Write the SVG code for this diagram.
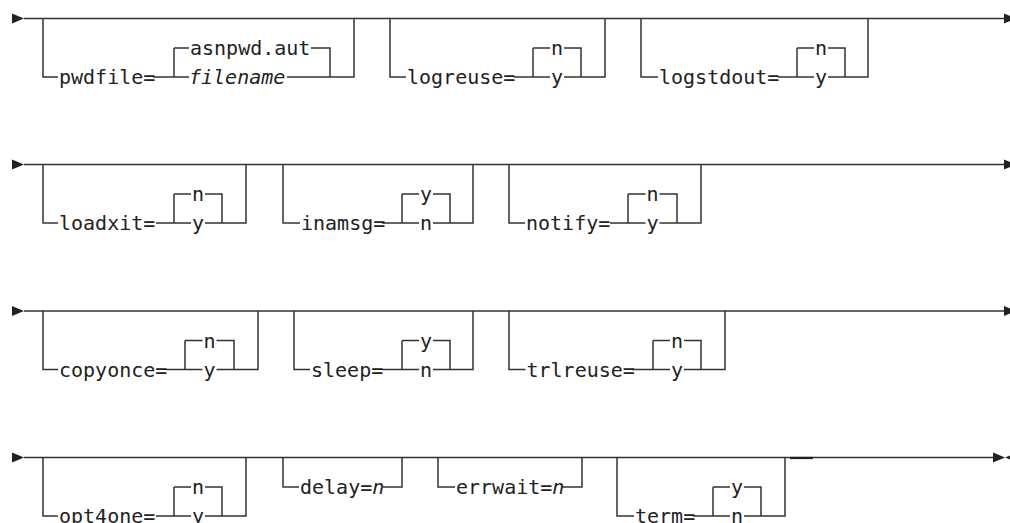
<svg xmlns="http://www.w3.org/2000/svg" width="1010" height="523" viewBox="0 0 1010 523">
<style>
.ln{fill:none;stroke:#333;stroke-width:1.5}
.t{font-family:"DejaVu Sans Mono","Liberation Mono",monospace;font-size:20px;fill:#222}
.c{text-anchor:middle}
.i{font-style:italic}
.ah{fill:#222}
</style>
<rect width="1010" height="523" fill="#fff"/>
<g id="connectors">
<path class="ln" d="M24 18.5 H1004 M24 164.5 H1004 M24 311 H1004 M24 457.5 H994"/>
<path d="M790 458 H813" stroke="#222" stroke-width="2.2"/>
<polygon class="ah" points="12,13.5 24,18.5 12,23.5"/>
<polygon class="ah" points="12,159.5 24,164.5 12,169.5"/>
<polygon class="ah" points="12,306 24,311 12,316"/>
<polygon class="ah" points="12,452.5 24,457.5 12,462.5"/>
<polygon class="ah" points="1004,13.5 1016,18.5 1004,23.5"/>
<polygon class="ah" points="1004,159.5 1016,164.5 1004,169.5"/>
<polygon class="ah" points="1004,306 1016,311 1004,316"/>
<polygon class="ah" points="993,452.5 1005,457.5 993,462.5"/>
<polygon class="ah" points="1017,452.5 1005,457.5 1017,462.5"/>
</g>
<g id="pwdfile">
<path class="ln" d="M43 18.5 V77 H58 M153 77 H189 M174 48 V77 M174 48 H189 M311 48 H330 V77 M287 77 H354 V18.5"/>
<text class="t" x="59" y="84">pwdfile=</text>
<text class="t" x="190" y="55">asnpwd.aut</text>
<text class="t i" x="189" y="84">filename</text>
</g>
<g id="logreuse">
<path class="ln" d="M390 18.5 V77 H406 M514 77 H550 M533 48 V77 M533 48 H550 M564 48 H581 V77 M564 77 H605 V18.5"/>
<text class="t" x="407" y="84">logreuse=</text>
<text class="t c" x="557" y="55">n</text>
<text class="t c" x="557" y="84">y</text>
</g>
<g id="logstdout">
<path class="ln" d="M641 18.5 V77 H658 M778 77 H814 M797 48 V77 M797 48 H814 M828 48 H845 V77 M828 77 H868 V18.5"/>
<text class="t" x="659" y="84">logstdout=</text>
<text class="t c" x="821" y="55">n</text>
<text class="t c" x="821" y="84">y</text>
</g>
<g id="loadxit">
<path class="ln" d="M43 164.5 V223 H58 M156 223 H191 M174 194 V223 M174 194 H191 M205 194 H222 V223 M205 223 H246 V164.5"/>
<text class="t" x="59" y="230">loadxit=</text>
<text class="t c" x="198" y="201">n</text>
<text class="t c" x="198" y="230">y</text>
</g>
<g id="inamsg">
<path class="ln" d="M283 164.5 V223 H300 M382 223 H419 M402 194 V223 M402 194 H419 M433 194 H450 V223 M433 223 H473 V164.5"/>
<text class="t" x="301" y="230">inamsg=</text>
<text class="t c" x="426" y="201">y</text>
<text class="t c" x="426" y="230">n</text>
</g>
<g id="notify">
<path class="ln" d="M509 164.5 V223 H525 M610 223 H645.5 M628 194 V223 M628 194 H645.5 M659.5 194 H677 V223 M659.5 223 H701 V164.5"/>
<text class="t" x="526" y="230">notify=</text>
<text class="t c" x="652.5" y="201">n</text>
<text class="t c" x="652.5" y="230">y</text>
</g>
<g id="copyonce">
<path class="ln" d="M43 311 V369.5 H58 M166 369.5 H202.5 M185 340.5 V369.5 M185 340.5 H202.5 M216.5 340.5 H234 V369.5 M216.5 369.5 H258 V311"/>
<text class="t" x="59" y="376.5">copyonce=</text>
<text class="t c" x="209.5" y="347.5">n</text>
<text class="t c" x="209.5" y="376.5">y</text>
</g>
<g id="sleep">
<path class="ln" d="M294 311 V369.5 H310 M382 369.5 H419 M402 340.5 V369.5 M402 340.5 H419 M433 340.5 H450 V369.5 M433 369.5 H473 V311"/>
<text class="t" x="311" y="376.5">sleep=</text>
<text class="t c" x="426" y="347.5">y</text>
<text class="t c" x="426" y="376.5">n</text>
</g>
<g id="trlreuse">
<path class="ln" d="M509 311 V369.5 H525.5 M632 369.5 H670 M653 340.5 V369.5 M653 340.5 H670 M684 340.5 H701 V369.5 M684 369.5 H725 V311"/>
<text class="t" x="526.5" y="376.5">trlreuse=</text>
<text class="t c" x="677" y="347.5">n</text>
<text class="t c" x="677" y="376.5">y</text>
</g>
<g id="opt4one">
<path class="ln" d="M43 457.5 V516 H58 M156 516 H191 M174 487 V516 M174 487 H191 M205 487 H222 V516 M205 516 H246 V457.5"/>
<text class="t" x="59" y="523">opt4one=</text>
<text class="t c" x="198" y="494">n</text>
<text class="t c" x="198" y="523">y</text>
</g>
<g id="delay">
<path class="ln" d="M283 457.5 V487 H299 M383 487 H402 V457.5"/>
<text class="t" x="300" y="494">delay=<tspan class="i">n</tspan></text>
</g>
<g id="errwait">
<path class="ln" d="M438 457.5 V487 H455 M562 487 H582 V457.5"/>
<text class="t" x="456" y="494">errwait=<tspan class="i">n</tspan></text>
</g>
<g id="term">
<path class="ln" d="M617 457.5 V516 H634 M693 516 H730 M713 487 V516 M713 487 H730 M744 487 H761 V516 M744 516 H785 V457.5"/>
<text class="t" x="635" y="523">term=</text>
<text class="t c" x="737" y="494">y</text>
<text class="t c" x="737" y="523">n</text>
</g>
</svg>
